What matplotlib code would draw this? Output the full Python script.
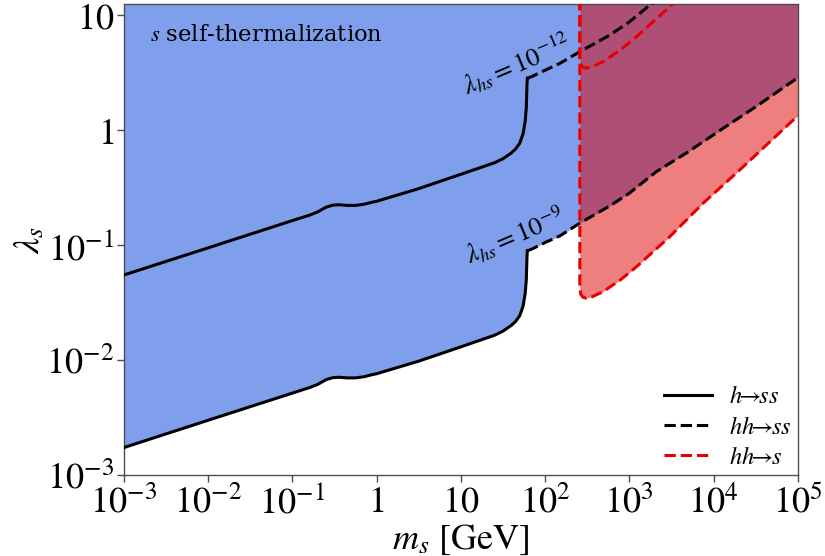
import numpy as np
import matplotlib
matplotlib.use("Agg")
import matplotlib.pyplot as plt

plt.rcParams['font.family'] = 'DejaVu Serif'
plt.rcParams['mathtext.fontset'] = 'stix'

# h -> ss boundaries (m_s in GeV, lambda_s)
m_decay = [1e-3, 1e-2, 0.1, 0.126, 0.161, 0.2, 0.251, 0.302, 0.355, 0.447,
           0.562, 0.708, 0.891, 1, 3.16, 10, 15.8, 25.1, 31.6, 39.8, 44.7,
           50.1, 55, 58.2, 60, 61.1, 61.7]
lam_decay_12 = [0.0548, 0.0944, 0.163, 0.172, 0.182, 0.194, 0.213, 0.222,
                0.224, 0.221, 0.221, 0.226, 0.236, 0.240, 0.309, 0.412,
                0.462, 0.519, 0.562, 0.631, 0.684, 0.767, 0.933, 1.20,
                1.58, 2.51, 2.82]
lam_decay_9 = [0.00173, 0.00299, 0.00515, 0.00544, 0.00576, 0.00613,
               0.00674, 0.00702, 0.00708, 0.00699, 0.00699, 0.00715,
               0.00746, 0.00759, 0.00977, 0.0130, 0.0146, 0.0164, 0.0178,
               0.0200, 0.0216, 0.0243, 0.0295, 0.0380, 0.0500, 0.0794,
               0.0892]

# hh -> ss boundaries
m_ann_12 = [61.7, 70, 100, 150, 259, 589, 1000, 1750, 3200]
lam_ann_12 = [2.82, 2.92, 3.31, 3.80, 4.80, 6.70, 8.71, 12.2, 16.2]
m_ann_9 = [61.7, 70, 100, 150, 259, 589, 1000, 2090, 5000, 13000, 30000, 1e5]
lam_ann_9 = [0.0891, 0.0923, 0.105, 0.120, 0.155, 0.219, 0.282, 0.434,
             0.646, 1.035, 1.55, 2.85]

# hh -> s boundaries
m_inv = [259, 259, 266, 282, 309, 363, 489, 794, 1216, 3020, 7520, 20400, 1e5]
lam_inv_9 = [20, 0.0417, 0.0372, 0.0351, 0.0345, 0.0355, 0.0393, 0.0501,
             0.0647, 0.118, 0.231, 0.449, 1.33]
lam_inv_12 = [20, 4.17, 3.72, 3.51, 3.45, 3.55, 3.93, 5.01, 6.47, 11.8, 23.1,
              44.9, 133]

xticks = [1e-3, 1e-2, 1e-1, 1, 10, 1e2, 1e3, 1e4, 1e5]
xticklabels = ['$10^{-3}$', '$10^{-2}$', '$10^{-1}$', '$1$', '$10$',
               '$10^{2}$', '$10^{3}$', '$10^{4}$', '$10^{5}$']
yticks = [1e-3, 1e-2, 1e-1, 1, 10]
yticklabels = ['$10^{-3}$', '$10^{-2}$', '$10^{-1}$', '$1$', '$10$']

top = 20

fig = plt.figure(figsize=(8.25, 5.56), dpi=100)
ax = fig.add_axes([0.150, 0.1457, 0.817, 0.8473])
ax.set_xscale('log')
ax.set_yscale('log')

# thermalized region for lambda_hs = 1e-9
m_edge = np.array(m_decay + m_ann_9[1:])
lam_edge = np.array(lam_decay_9 + lam_ann_9[1:])
ax.fill_between(m_edge, lam_edge, top, color='#7f9fec', lw=0, zorder=1)
ax.fill_between(m_inv[1:], lam_inv_9[1:], top, color='#e00000', alpha=0.5,
                lw=0, zorder=2)

lw = 2.2
ax.plot(m_decay, lam_decay_12, 'k-', lw=lw, zorder=3,
        label=r'$h\!\!\to\!\! ss$')
ax.plot(m_decay, lam_decay_9, 'k-', lw=lw, zorder=3)
ax.plot(m_ann_12, lam_ann_12, 'k--', lw=lw, zorder=3,
        label=r'$hh\!\!\to\!\! ss$')
ax.plot(m_ann_9, lam_ann_9, 'k--', lw=lw, zorder=3)
ax.plot(m_inv, lam_inv_12, '--', color='#e60000', lw=lw, zorder=4,
        label=r'$hh\!\!\to\!\! s$')
ax.plot(m_inv, lam_inv_9, '--', color='#e60000', lw=lw, zorder=4)

ax.set_xlim(1e-3, 1e5)
ax.set_ylim(1e-3, 12.5)
ax.set_xticks(xticks)
ax.set_xticklabels(xticklabels)
ax.set_yticks(yticks)
ax.set_yticklabels(yticklabels)
ax.minorticks_off()
ax.tick_params(labelsize=26, length=5, width=1, color='0.3', pad=2)
for sp in ax.spines.values():
    sp.set_color('0.3')
    sp.set_linewidth(1)

ax.set_xlabel(r'$m_s\ [\mathrm{GeV}]$', fontsize=26, labelpad=2)
ax.set_ylabel(r'$\lambda_s$', fontsize=26, labelpad=0)

ax.text(0.039, 0.922, '$s$ self-thermalization', transform=ax.transAxes,
        fontsize=16.3, va='baseline', ha='left')
ax.text(10**1.66, 10**0.58, r'$\lambda_{hs}=10^{-12}$', fontsize=19,
        rotation=23, rotation_mode='anchor', ha='center', va='center')
ax.text(10**1.64, 10**-0.92, r'$\lambda_{hs}=10^{-9}$', fontsize=19,
        rotation=23, rotation_mode='anchor', ha='center', va='center')

ax.legend(loc='lower right', bbox_to_anchor=(1.0, 0.0), frameon=False,
          fontsize=17.5, handlelength=2.0, handletextpad=0.7,
          labelspacing=0.3, borderpad=0.2, borderaxespad=0.05)

fig.savefig('out.png', dpi=100)
